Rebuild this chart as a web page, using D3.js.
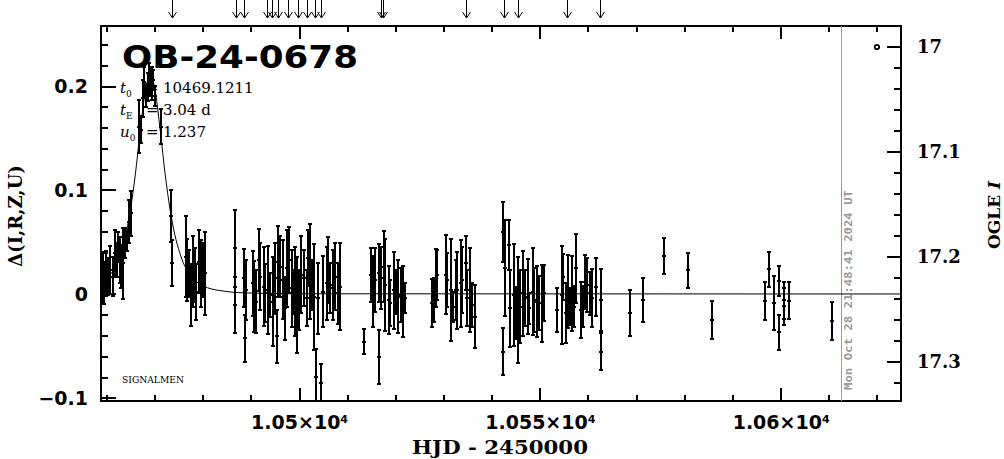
<!DOCTYPE html>
<html>
<head>
<meta charset="utf-8">
<script src="https://cdn.jsdelivr.net/npm/d3@7/dist/d3.min.js"></script>
<style>
  html, body { margin: 0; padding: 0; background: #fff; }
  svg { display: block; }
</style>
</head>
<body>
<svg id="chart" width="1004" height="459"></svg>
<script>
// ---------------- DATA ----------------
const hjd = [
  10459.2,10459.56,10459.9,10460.25,10460.7,10461.3,10461.8,10462.1,10462.4,10462.8,10463.1,10463.5,10463.8,10464.2,10464.7,10465.0,
  10466.76,10467.1,10467.5,10467.86,10468.2,10468.55,10468.9,10469.2,10469.5,10469.7,10470.05,10471.4,
  10473.4,10473.6,
  10476.5,10476.8,10477.2,10477.5,10478.0,10478.4,10478.7,10479.2,10479.6,10480.1,10480.5,
  10486.7,10486.6,10488.6,10488.7,10488.95,10490.4,10490.7,10491.1,10491.6,10491.97,10492.7,10493.0,10493.6,10494.0,10494.6,10494.9,
  10495.4,10495.7,10496.1,10496.6,10497.0,10497.5,10497.9,10498.5,10498.7,10499.2,10499.5,10500.0,10500.5,10501.0,10501.6,10501.9,
  10502.3,10502.7,10503.2,10503.5,10504.0,10504.6,10504.9,10505.7,10506.1,10506.4,10507.0,10507.5,10508.0,10508.4,
  10513.57,10514.85,10515.44,10515.8,10516.5,10516.7,10517.0,10517.7,10517.9,10518.6,10518.9,10519.8,10520.2,10520.6,10521.1,10521.6,10521.9,
  10527.7,10528.04,10528.4,10528.67,10530.5,10530.8,10531.6,10531.9,10532.5,10532.75,10533.6,10533.9,10534.6,10534.9,10535.5,10535.9,10536.6,
  10542.4,10542.45,10542.8,10543.7,10543.8,10544.7,10545.0,10545.4,10545.8,10546.6,10547.0,10547.5,10547.8,10548.5,10548.8,10549.5,10549.9,10550.4,10550.8,
  10553.66,10554.6,10554.8,10555.4,10555.8,10556.2,10556.6,10557.0,10557.6,10558.5,10558.9,10559.4,10559.8,10560.5,10560.9,10561.6,10562.7,10562.6,
  10568.7,10571.5,10575.7,10580.7,10585.7,10596.7,10597.6,10598.7,10599.7,10599.7,10600.6,10600.8,10601.8,10610.7
];
const delta = [
  0.0151,0.0103,0.0199,0.0167,0.0231,0.0167,0.0391,0.0327,0.0455,0.0327,0.0263,0.0295,0.0487,0.0519,0.0696,0.0776,
  0.161,0.158,0.188,0.204,0.191,0.199,0.206,0.204,0.2026,0.206,0.19,0.161,
  0.075,0.03,
  0.0359,0.0231,0.0199,-0.001,0.0215,0.0183,0.0022,0.0311,0.0199,0.0231,0.0199,
  0.0438,-0.0106,0.0151,-0.0426,0.0038,0.0103,-0.0026,-0.0074,0.0327,0.0167,0.007,0.0006,0.0038,-0.001,-0.0074,0.0151,
  -0.0407,0.0311,0.0263,0.0135,-0.0138,0.0247,0.0327,0.0054,0.0022,0.0022,-0.0106,-0.0058,0.0183,0.0151,-0.0042,0.0343,
  0.0215,0.0087,-0.0026,-0.0801,-0.0042,-0.086,0.0022,0.0103,0.0231,0.0054,0.0087,0.0167,0.0006,0.007,
  -0.0459,0.0183,0.0022,0.0135,0.0199,-0.0603,0.0151,0.0263,0.0087,-0.0058,-0.009,0.0038,0.0022,-0.0026,-0.001,-0.0074,-0.0042,
  -0.009,-0.0058,0.0151,0.0183,0.0183,0.0135,0.0038,-0.0122,0.0038,0.0038,0.0103,0.0135,0.0295,-0.0042,0.0038,-0.0106,-0.0218,
  0.0599,-0.0555,0.0247,0.0471,-0.0138,-0.001,-0.0186,-0.0154,-0.0122,0.0006,-0.0042,-0.0026,-0.0138,0.0022,-0.0058,-0.0074,-0.009,-0.009,0.0006,
  -0.0154,-0.001,0.0167,-0.0186,0.0022,-0.0122,0.0006,-0.0122,0.0247,-0.0154,-0.0122,0.0119,0.0087,0.0006,-0.0042,0.007,-0.0058,-0.0555,
  -0.0186,-0.0058,0.0365,0.023,-0.025,-0.0067,0.0237,-0.0083,0.0125,-0.037,-0.006,-0.012,-0.0064,-0.026
];
const err = [
  0.0248,0.020,0.0216,0.0176,0.0232,0.019,0.0224,0.016,0.0144,0.0224,0.0208,0.034,0.0144,0.0104,0.0208,0.0216,
  0.0256,0.0128,0.0176,0.0144,0.0112,0.0136,0.016,0.0128,0.016,0.0096,0.0096,0.0168,
  0.025,0.022,
  0.039,0.030,0.0224,0.030,0.034,0.026,0.027,0.030,0.032,0.0256,0.040,
  0.0369,0.027,0.028,0.0224,0.029,0.031,0.034,0.030,0.030,0.032,0.038,0.028,0.042,0.021,0.043,0.034,
  0.0256,0.034,0.029,0.038,0.030,0.037,0.032,0.037,0.021,0.043,0.046,0.029,0.037,0.027,0.027,0.027,
  0.046,0.024,0.051,0.027,0.034,0.019,0.034,0.035,0.032,0.024,0.034,0.032,0.029,0.042,
  0.012,0.026,0.034,0.031,0.028,0.026,0.030,0.034,0.044,0.033,0.022,0.037,0.021,0.035,0.026,0.034,0.0144,
  0.023,0.021,0.028,0.024,0.038,0.026,0.049,0.0144,0.029,0.037,0.042,0.032,0.026,0.027,0.040,0.021,0.030,
  0.0288,0.0224,0.046,0.0236,0.037,0.049,0.025,0.051,0.035,0.041,0.027,0.036,0.015,0.042,0.031,0.034,0.026,0.037,0.027,
  0.021,0.047,0.022,0.029,0.035,0.018,0.036,0.020,0.033,0.027,0.020,0.026,0.026,0.021,0.028,0.028,0.030,0.018,
  0.022,0.021,0.0173,0.0168,0.018,0.018,0.017,0.026,0.014,0.017,0.018,0.018,0.018,0.0185
];
// model light curve
const modelT = [10458.87,10461,10462,10463,10464,10465,10466,10467,10468,10468.6,10469.12,10469.6,10470.2,10471.2,10472.2,10473.2,10474.2,10475.2,10476.2,10477.2,10479.1,10481,10484,10489,10500,10625];
const modelD = [0.0095,0.0198,0.0275,0.040,0.057,0.0815,0.115,0.156,0.193,0.206,0.210,0.206,0.193,0.156,0.115,0.0815,0.057,0.040,0.0275,0.0198,0.0103,0.006,0.003,0.001,0.0002,0.0];
// observation arrows at the top
const arrowT = [10473.6,10486.9,10488.6,10493.35,10494.4,10495.6,10497.7,10499.8,10501.7,10503.3,10504.6,10517.0,10517.5,10534.7,10542.6,10545.4,10555.7,10562.5];
// baseline marker (OGLE I)
const baseT = [10620];
const baseMag = [17.0];
const nowT = 10612.5;
const nowLabel = "Mon Oct 28 21:48:41 2024 UT";
// ticks
const xMajor = [10500, 10550, 10600];
const xMinor = [10460,10470,10480,10490,10510,10520,10530,10540,10560,10570,10580,10590,10610,10620];
const yMajor = [-0.1, 0, 0.1, 0.2];
const yMinor = [-0.08,-0.06,-0.04,-0.02,0.02,0.04,0.06,0.08,0.12,0.14,0.16,0.18,0.22,0.24];
const magMajor = [17, 17.1, 17.2, 17.3];
const magMinor = [17.02,17.04,17.06,17.08,17.12,17.14,17.16,17.18,17.22,17.24,17.26,17.28,17.32];
const params = [["t","0","10469.1211"],["t","E","3.04 d"],["u","0","1.237"]];

// ---------------- LAYOUT ----------------
const L = 101, R = 901, T = 26, B = 401;
const svg = d3.select("#chart");
svg.append("rect").attr("width",1004).attr("height",459).attr("fill","#fff");

const x = d3.scaleLinear().domain([10458.87, 10625]).range([L, R]);
const y = d3.scaleLinear().domain([-0.1029, 0.2577]).range([B, T]);
const ym = d3.scaleLinear().domain([16.98, 17.3375]).range([T, B]);

svg.append("defs").append("clipPath").attr("id","plot")
  .append("rect").attr("x",L).attr("y",T).attr("width",R-L).attr("height",B-T);

// ---------------- AXES ----------------
function styleAxis(g){
  g.select(".domain").remove();
  g.selectAll(".tick line").attr("stroke","#000").attr("stroke-width",2).attr("shape-rendering","crispEdges");
}
const sans = "'DejaVu Sans', sans-serif";
const serif = "'DejaVu Serif', serif";

// bottom
const gb = svg.append("g").attr("transform",`translate(0,${B})`)
  .call(d3.axisBottom(x).tickValues(xMajor).tickSize(-13).tickPadding(15));
styleAxis(gb);
gb.selectAll(".tick text").each(function(d){
  const t = d3.select(this);
  t.text(null).attr("fill","#000").attr("font-family",sans).attr("font-weight","bold").attr("font-size",19);
  t.append("tspan").text(d3.format(".4~f")(d/1e4) + "×10");
  t.append("tspan").text("4").attr("font-size",11).attr("dy","-0.55em");
});
svg.append("g").attr("transform",`translate(0,${B})`)
  .call(d3.axisBottom(x).tickValues(xMinor).tickSize(-6).tickFormat("")).call(styleAxis);
// top
svg.append("g").attr("transform",`translate(0,${T})`)
  .call(d3.axisTop(x).tickValues(xMajor).tickSize(-13).tickFormat("")).call(styleAxis);
svg.append("g").attr("transform",`translate(0,${T})`)
  .call(d3.axisTop(x).tickValues(xMinor).tickSize(-6).tickFormat("")).call(styleAxis);
// left
const gl = svg.append("g").attr("transform",`translate(${L},0)`)
  .call(d3.axisLeft(y).tickValues(yMajor).tickSize(-15).tickPadding(13)
    .tickFormat(d => d === 0 ? "0" : d3.format(".1f")(d)));
styleAxis(gl);
gl.selectAll(".tick text").attr("fill","#000").attr("font-family",sans).attr("font-weight","bold").attr("font-size",19);
svg.append("g").attr("transform",`translate(${L},0)`)
  .call(d3.axisLeft(y).tickValues(yMinor).tickSize(-7).tickFormat("")).call(styleAxis);
// right (OGLE I mag)
const gr = svg.append("g").attr("transform",`translate(${R},0)`)
  .call(d3.axisRight(ym).tickValues(magMajor).tickSize(-14).tickPadding(16)
    .tickFormat(d => d === 17 ? "17" : d3.format(".1f")(d)));
styleAxis(gr);
gr.selectAll(".tick text").attr("fill","#000").attr("font-family",serif).attr("font-weight","bold").attr("font-size",18);
svg.append("g").attr("transform",`translate(${R},0)`)
  .call(d3.axisRight(ym).tickValues(magMinor).tickSize(-7).tickFormat("")).call(styleAxis);

// frame
svg.append("rect").attr("x",L).attr("y",T).attr("width",R-L).attr("height",B-T)
  .attr("fill","none").attr("stroke","#000").attr("stroke-width",2).attr("shape-rendering","crispEdges");

// ---------------- "now" line ----------------
svg.append("line").attr("x1",Math.round(x(nowT))+0.5).attr("x2",Math.round(x(nowT))+0.5).attr("y1",T).attr("y2",B)
  .attr("stroke","#999").attr("stroke-width",1);
svg.append("text").attr("transform",`translate(${x(nowT)+11},390) rotate(-90)`)
  .attr("font-family","'DejaVu Sans Mono', monospace").attr("font-weight","bold").attr("font-size",11)
  .attr("fill","#999").attr("textLength",200).attr("lengthAdjust","spacingAndGlyphs").text(nowLabel);

// ---------------- model ----------------
const plot = svg.append("g").attr("clip-path","url(#plot)");
const model = modelT.map((t,i)=>[t, modelD[i]]);
plot.append("path").datum(model)
  .attr("d", d3.line().x(d=>x(d[0])).y(d=>y(d[1])).curve(d3.curveMonotoneX))
  .attr("fill","none").attr("stroke","#000").attr("stroke-width",1);

// ---------------- data points ----------------
const pts = hjd.map((t,i)=>({t, d: delta[i], e: err[i]}));
const px = p => Math.round(x(p.t));
const gp = plot.append("g").attr("stroke","#000").attr("stroke-width",2).attr("shape-rendering","crispEdges");
gp.selectAll("line.bar").data(pts).join("line").attr("class","bar")
  .attr("x1",px).attr("x2",px)
  .attr("y1",p=>y(p.d+p.e)).attr("y2",p=>y(p.d-p.e));
gp.selectAll("line.capt").data(pts).join("line").attr("class","capt")
  .attr("x1",p=>px(p)-2).attr("x2",p=>px(p)+2)
  .attr("y1",p=>y(p.d+p.e)).attr("y2",p=>y(p.d+p.e));
gp.selectAll("line.capb").data(pts).join("line").attr("class","capb")
  .attr("x1",p=>px(p)-2).attr("x2",p=>px(p)+2)
  .attr("y1",p=>y(p.d-p.e)).attr("y2",p=>y(p.d-p.e));
plot.append("g").attr("shape-rendering","crispEdges").selectAll("rect").data(pts).join("rect")
  .attr("x",p=>px(p)-2).attr("y",p=>Math.round(y(p.d))-1).attr("width",4).attr("height",2).attr("fill","#000");

// baseline marker
svg.append("g").selectAll("circle").data(baseT).join("circle")
  .attr("cx",(t)=>x(t)).attr("cy",(t,i)=>ym(baseMag[i])).attr("r",2.2)
  .attr("fill","#fff").attr("stroke","#000").attr("stroke-width",1.8);

// ---------------- arrows ----------------
const ga = svg.append("g").attr("stroke","#000").attr("stroke-width",1).attr("fill","none");
ga.selectAll("path").data(arrowT).join("path")
  .attr("d", t => { const xx = Math.round(x(t))+0.5; return `M${xx},0V18M${xx-4},12L${xx},18L${xx+4},12`; });

// ---------------- texts ----------------
svg.append("text").attr("x",122).attr("y",68).attr("font-family",sans).attr("font-weight","bold").attr("font-size",32)
  .attr("textLength",236).attr("lengthAdjust","spacingAndGlyphs").attr("fill","#000").text("OB-24-0678");

params.forEach((p,i)=>{
  const yy = 93 + i*22;
  const t = svg.append("text").attr("x",120).attr("y",yy).attr("font-family",serif).attr("font-size",15).attr("fill","#000");
  t.append("tspan").attr("font-style","italic").text(p[0]);
  t.append("tspan").attr("font-size",9).attr("dy",4).text(p[1]);
  svg.append("text").attr("x",146).attr("y",yy).attr("font-family",serif).attr("font-size",15).text("=");
  svg.append("text").attr("x",163).attr("y",yy).attr("font-family",serif).attr("font-size",15).text(p[2]);
});

svg.append("text").attr("x",122).attr("y",383).attr("font-family",serif).attr("font-size",9)
  .attr("textLength",62).attr("lengthAdjust","spacingAndGlyphs").text("SIGNALMEN");

svg.append("text").attr("x",500).attr("y",454).attr("text-anchor","middle")
  .attr("font-family",serif).attr("font-weight","bold").attr("font-size",19)
  .attr("textLength",176).attr("lengthAdjust","spacingAndGlyphs").text("HJD - 2450000");

svg.append("text").attr("transform","translate(22,216) rotate(-90)").attr("text-anchor","middle")
  .attr("font-family",serif).attr("font-weight","bold").attr("font-size",18).text("Δ(I,R,Z,U)");

const ot = svg.append("text").attr("transform","translate(1000,215) rotate(-90)").attr("text-anchor","middle")
  .attr("font-family",serif).attr("font-weight","bold").attr("font-size",17);
ot.append("tspan").text("OGLE ");
ot.append("tspan").attr("font-style","italic").text("I");
</script>
</body>
</html>
